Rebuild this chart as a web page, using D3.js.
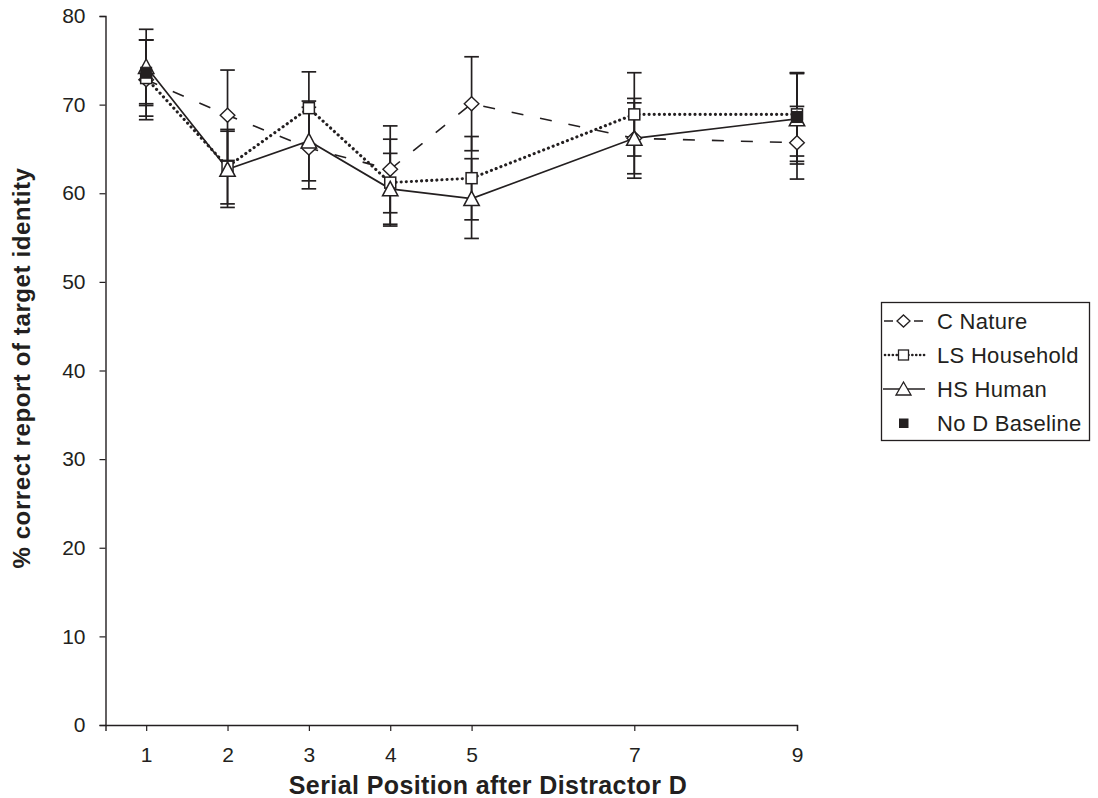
<!DOCTYPE html>
<html><head><meta charset="utf-8">
<script src="https://cdnjs.cloudflare.com/ajax/libs/d3/7.8.5/d3.min.js"></script>
<style>body{margin:0;background:#fff}svg{display:block}text{font-family:"Liberation Sans",Arial,sans-serif;fill:#231f20}</style>
</head><body><svg id="c" width="1098" height="798"></svg>
<script>
const positions = [1, 2, 3, 4, 5, 7, 9];
const xTicks = [1, 2, 3, 4, 5, 7, 9];
const yTicks = [0, 10, 20, 30, 40, 50, 60, 70, 80];
const cNature = [72.8, 68.8, 65.1, 62.7, 70.1, 66.2, 65.7];
const cNatureErr = [4.5, 5.1, 4.6, 4.9, 5.3, 4.5, 4.1];
const lsHousehold = [73.0, 63.0, 69.6, 61.2, 61.7, 68.9, 68.9];
const lsHouseholdErr = [4.3, 4.2, 4.1, 4.9, 4.7, 4.7, 4.7];
const hsHuman = [74.3, 62.7, 65.9, 60.5, 59.4, 66.2, 68.4];
const hsHumanErr = [4.2, 4.3, 4.5, 4.0, 4.5, 4.0, 5.1];
const baselinePos = [1, 9];
const baseline = [73.6, 68.6];
const baselineErr = [3.7, 5.0];
const legendLabels = ["C Nature", "LS Household", "HS Human", "No D Baseline"];
const xTitle = "Serial Position after Distractor D";
const yTitle = "% correct report of target identity";

const ink = "#231f20";
const font = '"Liberation Sans",Arial,sans-serif';
const svg = d3.select("#c");
const x = d3.scaleLinear().domain([0.5, 9]).range([105.5, 797]);
const y = d3.scaleLinear().domain([0, 80]).range([725, 16]);

// axes
const yAxis = svg.append("g").attr("transform", "translate(105.5,0)")
  .call(d3.axisLeft(y).tickValues(yTicks).tickSize(6).tickPadding(14));
const xAxis = svg.append("g").attr("transform", "translate(0,725)")
  .call(d3.axisBottom(x).tickValues(xTicks).tickSize(6).tickPadding(16).tickSizeOuter(6));
[yAxis, xAxis].forEach(g => {
  g.select(".domain").attr("stroke", ink).attr("stroke-width", 1.4);
  g.selectAll(".tick line").attr("stroke", ink).attr("stroke-width", 1.2);
  g.selectAll(".tick text").style("font-size", "21px").style("font-family", font).attr("fill", ink);
});

svg.append("text").attr("x", 488).attr("y", 794).attr("text-anchor", "middle")
  .style("font-size", "25px").style("font-weight", "bold").style("letter-spacing", "0.4px").text(xTitle);
svg.append("text").attr("transform", "translate(30,368) rotate(-90)").attr("text-anchor", "middle")
  .style("font-size", "24px").style("font-weight", "bold").style("letter-spacing", "0.6px").text(yTitle);

const series = [
  {vals: cNature, err: cNatureErr, pos: positions, dash: "12,17", width: 1.6, cap: "butt", shape: "diamond"},
  {vals: lsHousehold, err: lsHouseholdErr, pos: positions, dash: "0.1,5", width: 3.1, cap: "round", shape: "square"},
  {vals: hsHuman, err: hsHumanErr, pos: positions, dash: null, width: 1.7, cap: "butt", shape: "triangle"},
  {vals: baseline, err: baselineErr, pos: baselinePos, dash: null, width: 0, cap: "butt", shape: "filled"}
];

const line = d3.line().x(d => x(d[0])).y(d => y(d[1]));
series.forEach(s => {
  if (s.width > 0) {
    svg.append("path").datum(s.pos.map((p, i) => [p, s.vals[i]]))
      .attr("d", line).attr("fill", "none").attr("stroke", ink)
      .attr("stroke-width", s.width).attr("stroke-dasharray", s.dash)
      .attr("stroke-linecap", s.cap);
  }
});

// error bars
series.forEach(s => {
  const g = svg.append("g").attr("stroke", ink).attr("stroke-width", 1.7);
  s.pos.forEach((p, i) => {
    const cx = x(p), hi = y(s.vals[i] + s.err[i]), lo = y(s.vals[i] - s.err[i]);
    g.append("line").attr("x1", cx).attr("x2", cx).attr("y1", hi).attr("y2", lo);
    g.append("line").attr("x1", cx - 7.3).attr("x2", cx + 7.3).attr("y1", hi).attr("y2", hi);
    g.append("line").attr("x1", cx - 7.3).attr("x2", cx + 7.3).attr("y1", lo).attr("y2", lo);
  });
});

function marker(g, shape, cx, cy) {
  if (shape === "diamond") {
    g.append("path").attr("d", `M${cx},${cy-7}L${cx+7.3},${cy}L${cx},${cy+7}L${cx-7.3},${cy}Z`)
      .attr("fill", "#fff").attr("stroke", ink).attr("stroke-width", 1.4);
  } else if (shape === "square") {
    g.append("rect").attr("x", cx - 5.5).attr("y", cy - 5.5).attr("width", 11).attr("height", 11)
      .attr("fill", "#fff").attr("stroke", ink).attr("stroke-width", 1.5);
  } else if (shape === "triangle") {
    g.append("path").attr("d", `M${cx},${cy-7.5}L${cx+7.7},${cy+7}L${cx-7.7},${cy+7}Z`)
      .attr("fill", "#fff").attr("stroke", ink).attr("stroke-width", 1.5);
  } else {
    g.append("rect").attr("x", cx - 5.5).attr("y", cy - 5.5).attr("width", 11).attr("height", 11)
      .attr("fill", ink).attr("stroke", ink).attr("stroke-width", 1);
  }
}
series.forEach(s => {
  const g = svg.append("g");
  s.pos.forEach((p, i) => marker(g, s.shape, x(p), y(s.vals[i])));
});

// legend
const lg = svg.append("g");
lg.append("rect").attr("x", 881.5).attr("y", 302.5).attr("width", 208).attr("height", 138)
  .attr("fill", "#fff").attr("stroke", ink).attr("stroke-width", 1.3);
const sx = 903.5;
legendLabels.forEach((lab, i) => {
  const ly = 321 + i * 34, s = series[i];
  if (i === 0) {
    lg.append("line").attr("x1", 884).attr("x2", 893).attr("y1", ly).attr("y2", ly).attr("stroke", ink).attr("stroke-width", 1.5);
    lg.append("line").attr("x1", 914).attr("x2", 923).attr("y1", ly).attr("y2", ly).attr("stroke", ink).attr("stroke-width", 1.5);
  } else if (i === 1) {
    lg.append("line").attr("x1", 885).attr("x2", 927).attr("y1", ly).attr("y2", ly)
      .attr("stroke", ink).attr("stroke-width", 2.6).attr("stroke-dasharray", "0.1,3.8").attr("stroke-linecap", "round");
  } else if (i === 2) {
    lg.append("line").attr("x1", 883).attr("x2", 925).attr("y1", ly).attr("y2", ly).attr("stroke", ink).attr("stroke-width", 1.5);
  }
  const sm = lg.append("g");
  if (s.shape === "diamond") sm.append("path").attr("d", `M${sx},${ly-6}L${sx+6.5},${ly}L${sx},${ly+6}L${sx-6.5},${ly}Z`).attr("fill", "#fff").attr("stroke", ink).attr("stroke-width", 1.3);
  if (s.shape === "square") sm.append("rect").attr("x", sx - 5).attr("y", ly - 5).attr("width", 10).attr("height", 10).attr("fill", "#fff").attr("stroke", ink).attr("stroke-width", 1.3);
  if (s.shape === "triangle") sm.append("path").attr("d", `M${sx},${ly-7}L${sx+7.5},${ly+6}L${sx-7.5},${ly+6}Z`).attr("fill", "#fff").attr("stroke", ink).attr("stroke-width", 1.3);
  if (s.shape === "filled") sm.append("rect").attr("x", sx - 4.5).attr("y", ly - 4.5).attr("width", 9.5).attr("height", 9.5).attr("fill", ink);
  lg.append("text").attr("x", 937).attr("y", ly + 8).style("font-size", "22px").style("letter-spacing", "0.3px").text(lab);
});
</script></body></html>
